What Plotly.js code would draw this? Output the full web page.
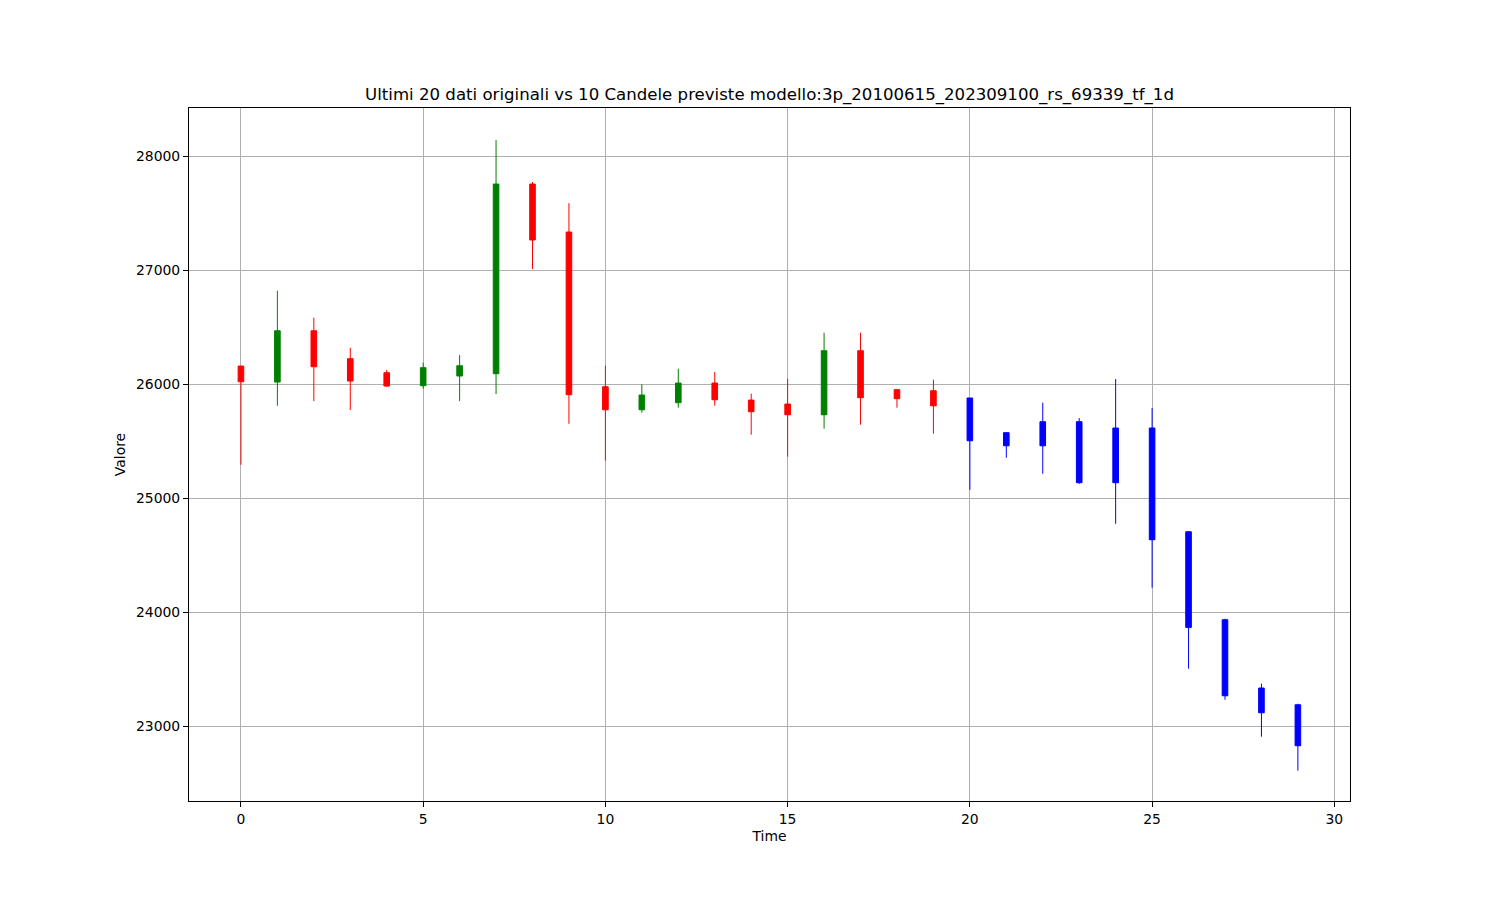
<!DOCTYPE html>
<html>
<head>
<meta charset="utf-8">
<script src="https://cdn.plot.ly/plotly-3.0.1.min.js"></script>
<style>html,body{margin:0;padding:0;background:#fff;}#chart{width:1500px;height:900px;}</style>
</head>
<body>
<div id="chart"></div>
<script>
// Original data (last 20)
const origX = [0,1,2,3,4,5,6,7,8,9,10,11,12,13,14,15,16,17,18,19];
const origOpen  = [26160,26020,26470,26225,26102,25988,26073,26093,27757,27336,25979,25777,25839,26011,25862,25827,25733,26295,25953,25944];
const origHigh  = [26163,26821,26584,26321,26125,26190,26257,28143,27775,27590,26163,26000,26137,26108,25918,26049,26453,26453,25953,26041];
const origLow   = [25295,25812,25853,25775,25979,25962,25853,25915,27011,25654,25330,25751,25795,25812,25558,25365,25611,25646,25795,25567];
const origClose = [26023,26470,26154,26029,25985,26146,26163,27757,27266,25909,25777,25906,26011,25865,25760,25733,26295,25883,25874,25812];

// Predicted candles (10)
const predX = [20,21,22,23,24,25,26,27,28,29];
const predOpen  = [25880,25576,25672,25672,25617,25617,24707,23935,23336,23189];
const predHigh  = [25880,25576,25839,25704,26046,25792,24707,23944,23374,23198];
const predLow   = [25075,25356,25216,25128,24777,24216,23505,23233,22909,22611];
const predClose = [25505,25461,25461,25137,25137,24637,23868,23268,23119,22830];

const xTicks = [0,5,10,15,20,25,30];
const yTicks = [23000,24000,25000,26000,27000,28000];

const traces = [
  {
    type: 'candlestick', x: origX, open: origOpen, high: origHigh, low: origLow, close: origClose,
    increasing: {line: {color: '#008000', width: 1}, fillcolor: '#008000'},
    decreasing: {line: {color: '#ff0000', width: 1}, fillcolor: '#ff0000'},
    whiskerwidth: 0, showlegend: false, hoverinfo: 'x+y'
  },
  {
    type: 'candlestick', x: predX, open: predOpen, high: predHigh, low: predLow, close: predClose,
    increasing: {line: {color: '#0000ff', width: 1}, fillcolor: '#0000ff'},
    decreasing: {line: {color: '#0000ff', width: 1}, fillcolor: '#0000ff'},
    whiskerwidth: 0, showlegend: false, hoverinfo: 'x+y'
  }
];

const layout = {
  width: 1500, height: 900,
  paper_bgcolor: '#fff', plot_bgcolor: '#fff',
  margin: {l: 189, r: 150, t: 108, b: 99, pad: 0},
  font: {family: 'DejaVu Sans', size: 13.9, color: '#000'},
  boxgap: 0.78,
  title: {
    text: 'Ultimi 20 dati originali vs 10 Candele previste modello:3p_20100615_202309100_rs_69339_tf_1d',
    font: {family: 'DejaVu Sans', size: 16.6, color: '#000'},
    x: 0.5, xref: 'paper', y: 1, yref: 'paper', yanchor: 'bottom', pad: {b: 8}
  },
  xaxis: {
    range: [-1.425, 30.43], tickvals: xTicks, ticktext: xTicks.map(String),
    showgrid: true, gridcolor: '#b0b0b0', gridwidth: 1,
    zeroline: false, showline: true, linecolor: '#000', linewidth: 1, mirror: true,
    ticks: 'outside', ticklen: 5, tickcolor: '#000', tickfont: {family: 'DejaVu Sans', size: 13.9, color: '#000'},
    rangeslider: {visible: false},
    title: {text: 'Time', font: {family: 'DejaVu Sans', size: 13.9, color: '#000'}, standoff: 5}
  },
  yaxis: {
    range: [22345, 28424], tickvals: yTicks, ticktext: yTicks.map(String),
    showgrid: true, gridcolor: '#b0b0b0', gridwidth: 1,
    zeroline: false, showline: true, linecolor: '#000', linewidth: 1, mirror: true,
    ticks: 'outside', ticklen: 5, tickcolor: '#000', tickfont: {family: 'DejaVu Sans', size: 13.9, color: '#000'},
    title: {text: 'Valore', font: {family: 'DejaVu Sans', size: 13.9, color: '#000'}, standoff: 7}
  },
  showlegend: false
};

Plotly.newPlot('chart', traces, layout, {staticPlot: true, displayModeBar: false});
</script>
</body>
</html>
